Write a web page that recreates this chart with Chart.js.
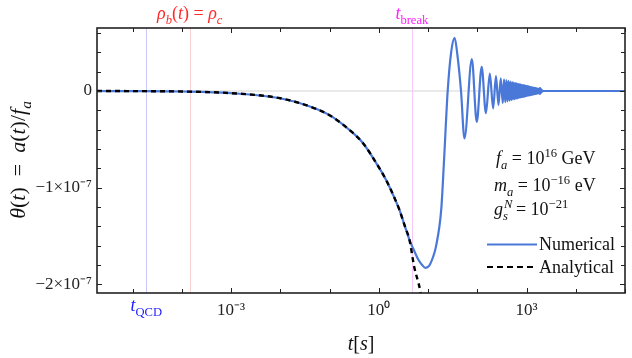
<!DOCTYPE html>
<html>
<head>
<meta charset="utf-8">
<script src="https://cdn.jsdelivr.net/npm/chart.js@4"></script>
<style>
  html, body { margin: 0; padding: 0; background: #fff; }
  canvas { display: block; }
</style>
</head>
<body>
<canvas id="graph1" width="632" height="358"></canvas>
<script>
// theta values in units of 1e-7
const numT = [1.9e-6, 1e-5, 1e-4, 1e-3, 0.01, 0.04, 0.1, 0.25, 0.48, 0.9, 1.41, 2.1, 2.63, 3.4, 4.2, 5.0, 6.3, 7.6, 8.9, 10.5, 12.6, 14.5, 18.6, 21, 25.1, 29.5, 34.7, 40, 46.8, 55, 77.6, 97.7,
  123, 150, 180, 210, 240, 270, 300,
  330, 350, 370, 390, 410, 430, 450, 470, 490, 510, 530, 550, 570, 590, 610, 630, 650, 670, 690, 710, 730, 750, 770, 790, 810, 830, 850, 870, 890, 910, 930, 950, 970, 990,
  1020, 1050, 1080, 1110, 1140, 1170, 1200, 1230, 1260, 1290, 1320, 1350, 1380, 1410, 1440, 1470, 1500, 1530, 1560, 1590, 1620, 1650, 1680, 1710, 1740, 1770, 1800, 1830, 1860, 1890, 1920, 1950, 1980, 2010, 2040, 2070, 2100,
  2200, 1e5];
const numTheta = [0, -0.001, -0.005, -0.022, -0.075, -0.16, -0.25, -0.40, -0.54, -0.75, -0.92, -1.11, -1.23, -1.40, -1.54, -1.63, -1.74, -1.80, -1.83, -1.81, -1.72, -1.61, -1.22, -0.75, 0, 0.40, 0.55, 0.35, 0, -0.49, 0.33, -0.32,
  0.25, -0.23, 0.18, -0.18, 0.155, -0.145, 0.13,
  -0.125, 0.12, -0.116, 0.112, -0.108, 0.104, -0.100, 0.097, -0.094, 0.091, -0.088, 0.086, -0.084, 0.082, -0.080, 0.078, -0.076, 0.074, -0.072, 0.071, -0.069, 0.068, -0.066, 0.065, -0.063, 0.062, -0.061, 0.060, -0.059, 0.058, -0.057, 0.056, -0.054, 0.053,
  -0.051, 0.050, -0.048, 0.047, -0.045, 0.044, -0.042, 0.041, -0.040, 0.038, -0.037, 0.036, -0.035, 0.034, -0.033, 0.032, -0.031, 0.030, -0.029, 0.027, -0.026, 0.025, -0.024, 0.022, -0.021, 0.022, -0.024, 0.027, -0.029, 0.030, -0.028, 0.024, -0.020, 0.015, -0.010, 0.006, -0.003,
  0, 0];

const anaT = [1.9e-6, 1e-5, 1e-4, 1e-3, 0.01, 0.04, 0.1, 0.25, 0.48, 0.9, 1.41, 2.1, 2.63, 3.4, 4.2, 5.25, 6.9, 7.6];
const anaTheta = [0, -0.001, -0.005, -0.022, -0.075, -0.16, -0.25, -0.40, -0.54, -0.75, -0.92, -1.11, -1.23, -1.40, -1.54, -1.82, -2.06, -2.2];

const xDecades = [-5, -4, -3, -2, -1, 0, 1, 2, 3, 4, 5];
const xLabelled = {"-3": "10⁻³", "0": "10⁰", "3": "10³"};
const yTicks = [-2, -1.8, -1.6, -1.4, -1.2, -1, -0.8, -0.6, -0.4, -0.2, 0, 0.2, 0.4, 0.6];
const yLabelled = {"0": "0", "-1": "−1×10⁻⁷", "-2": "−2×10⁻⁷"};

// marker times: t_QCD, rho_b = rho_c, t_break
const markT = [1.9e-5, 1.45e-4, 4.7];

const serif = "'Liberation Serif', 'Times New Roman', serif";
const blue = "#4a78d8";

function segFont(s, size) {
  const fs = (s.sub || s.sup) ? size * 0.7 : size;
  return (s.it ? "italic " : "") + fs + "px " + serif;
}
function segWidth(ctx, s, size) {
  ctx.font = segFont(s, size);
  let w = ctx.measureText(s.t).width;
  if (s.top) w = Math.max(w, ctx.measureText(s.top).width);
  return w;
}
function drawRich(ctx, segs, x, y, size, align, color) {
  let w = 0;
  for (const s of segs) w += segWidth(ctx, s, size);
  let cx = align === "center" ? x - w / 2 : (align === "right" ? x - w : x);
  ctx.fillStyle = color;
  ctx.textBaseline = "alphabetic";
  ctx.textAlign = "left";
  for (const s of segs) {
    const sw = segWidth(ctx, s, size);
    ctx.font = segFont(s, size);
    const dy = s.sub ? size * 0.25 : (s.sup ? -size * 0.4 : 0);
    ctx.fillText(s.t, cx, y + dy);
    if (s.top) ctx.fillText(s.top, cx + 1, y - size * 0.4);
    cx += sw;
  }
}

const decor = {
  id: "decor",
  beforeDatasetsDraw(chart) {
    const ctx = chart.ctx, a = chart.chartArea;
    const xs = chart.scales.x, ys = chart.scales.y;
    ctx.save();
    ctx.lineWidth = 1;
    const y0 = ys.getPixelForValue(0);
    ctx.strokeStyle = "#d4d4d4";
    ctx.beginPath(); ctx.moveTo(a.left, y0); ctx.lineTo(a.right, y0); ctx.stroke();
    const cols = ["#c8c8fa", "#f8d2d2", "#f8c8f8"];
    markT.forEach((t, i) => {
      const px = Math.round(xs.getPixelForValue(t)) + 0.5;
      ctx.strokeStyle = cols[i];
      ctx.beginPath(); ctx.moveTo(px, a.top); ctx.lineTo(px, a.bottom); ctx.stroke();
    });
    ctx.restore();
  },
  afterDraw(chart) {
    const ctx = chart.ctx, a = chart.chartArea;
    const xs = chart.scales.x, ys = chart.scales.y;
    ctx.save();
    // ticks inside the frame on all sides
    ctx.strokeStyle = "#222";
    ctx.lineWidth = 1;
    xDecades.forEach(k => {
      const px = Math.round(xs.getPixelForValue(Math.pow(10, k))) + 0.5;
      const len = xLabelled[k] ? 5 : 4;
      ctx.beginPath();
      ctx.moveTo(px, a.bottom); ctx.lineTo(px, a.bottom - len);
      ctx.moveTo(px, a.top); ctx.lineTo(px, a.top + len);
      ctx.stroke();
    });
    yTicks.forEach(v => {
      const py = Math.round(ys.getPixelForValue(v)) + 0.5;
      const len = yLabelled[v] ? 5 : 4;
      ctx.beginPath();
      ctx.moveTo(a.left, py); ctx.lineTo(a.left + len, py);
      ctx.moveTo(a.right, py); ctx.lineTo(a.right - len, py);
      ctx.stroke();
    });
    // frame
    ctx.lineWidth = 1.6;
    ctx.strokeRect(a.left, a.top, a.right - a.left, a.bottom - a.top);

    // marker labels
    const m0 = xs.getPixelForValue(markT[0]);
    const m1 = xs.getPixelForValue(markT[1]);
    const m2 = xs.getPixelForValue(markT[2]);
    drawRich(ctx, [{t: "t", it: true}, {t: "QCD", sub: true}], m0, 311, 18, "center", "#1a1aff");
    drawRich(ctx, [{t: "ρ", it: true}, {t: "b", it: true, sub: true}, {t: "("}, {t: "t", it: true}, {t: ") = "}, {t: "ρ", it: true}, {t: "c", it: true, sub: true}], m1, 19, 18, "center", "#ff2a2a");
    drawRich(ctx, [{t: "t", it: true}, {t: "break", sub: true}], m2, 19, 18, "center", "#ff22ff");

    // parameter box
    drawRich(ctx, [{t: "f", it: true}, {t: "a", it: true, sub: true}, {t: " = 10"}, {t: "16", sup: true}, {t: " GeV"}], 496, 164, 18, "left", "#111");
    drawRich(ctx, [{t: "m", it: true}, {t: "a", it: true, sub: true}, {t: " = 10"}, {t: "−16", sup: true}, {t: " eV"}], 494, 191, 18, "left", "#111");
    drawRich(ctx, [{t: "g", it: true}, {t: "s", top: "N", it: true, sub: true}, {t: " = 10"}, {t: "−21", sup: true}], 494, 215, 18, "left", "#111");

    // legend
    ctx.lineWidth = 2.2;
    ctx.strokeStyle = blue;
    ctx.beginPath(); ctx.moveTo(487, 244.5); ctx.lineTo(537, 244.5); ctx.stroke();
    ctx.strokeStyle = "#000";
    ctx.setLineDash([6, 4]);
    ctx.lineWidth = 2.2;
    ctx.beginPath(); ctx.moveTo(487, 267); ctx.lineTo(537, 267); ctx.stroke();
    ctx.setLineDash([]);
    drawRich(ctx, [{t: "Numerical"}], 539, 250, 18, "left", "#111");
    drawRich(ctx, [{t: "Analytical"}], 539, 273, 18, "left", "#111");

    // axis titles
    drawRich(ctx, [{t: "t", it: true}, {t: "["}, {t: "s", it: true}, {t: "]"}], 361, 350, 20, "center", "#111");
    ctx.translate(25, 160);
    ctx.rotate(-Math.PI / 2);
    drawRich(ctx, [{t: "θ", it: true}, {t: "("}, {t: "t", it: true}, {t: ")  =  "}, {t: "a", it: true}, {t: "("}, {t: "t", it: true}, {t: ")/"}, {t: "f", it: true}, {t: "a", it: true, sub: true}], 0, 0, 22, "center", "#111");
    ctx.restore();
  }
};

const graph1 = new Chart("graph1", {
  type: "line",
  data: {
    datasets: [{
      label: "Analytical",
      data: anaT.map((t, i) => ({x: t, y: anaTheta[i]})),
      borderColor: "#000",
      borderWidth: 2.4,
      borderDash: [5, 4],
      pointRadius: 0,
      fill: false,
      cubicInterpolationMode: "monotone"
    }, {
      label: "Numerical",
      data: numT.map((t, i) => ({x: t, y: numTheta[i]})),
      borderColor: blue,
      borderWidth: 2.2,
      pointRadius: 0,
      fill: false,
      cubicInterpolationMode: "monotone"
    }]
  },
  options: {
    responsive: false,
    animation: false,
    devicePixelRatio: 1,
    layout: {padding: {left: 0, top: 28, right: 5, bottom: 0}},
    plugins: {legend: {display: false}, tooltip: {enabled: false}},
    scales: {
      x: {
        type: "logarithmic",
        min: 1.9e-6,
        max: 1e5,
        grid: {display: false, drawTicks: false},
        border: {display: false},
        afterBuildTicks: s => { s.ticks = xDecades.map(k => ({value: Math.pow(10, k)})); },
        afterFit: s => { s.height = 65; },
        ticks: {
          autoSkip: false, maxRotation: 0, padding: 7, color: "#222",
          font: {family: serif, size: 17},
          callback: (v) => { const k = Math.round(Math.log10(v)); return xLabelled[k] || ""; }
        }
      },
      y: {
        min: -2.09,
        max: 0.652,
        grid: {display: false, drawTicks: false},
        border: {display: false},
        afterBuildTicks: s => { s.ticks = yTicks.map(v => ({value: v})); },
        afterFit: s => { s.width = 97; },
        ticks: {
          autoSkip: false, padding: 5, color: "#222",
          font: {family: serif, size: 17},
          callback: (v) => { const k = Math.round(v * 10) / 10; return yLabelled[k] || ""; }
        }
      }
    }
  },
  plugins: [decor]
});
</script>
</body>
</html>
